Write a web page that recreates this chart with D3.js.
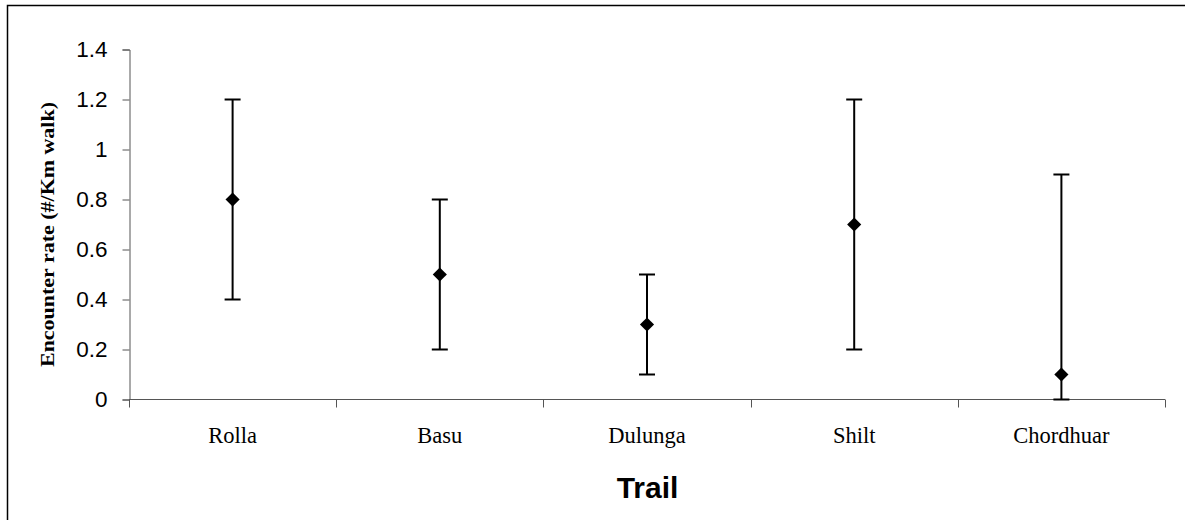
<!DOCTYPE html>
<html>
<head>
<meta charset="utf-8">
<script src="https://cdn.jsdelivr.net/npm/d3@7"></script>
<style>
  html, body { margin: 0; padding: 0; background: #fff; }
  svg { display: block; }
</style>
</head>
<body>
<svg id="chart" width="1185" height="520"></svg>
<script>
// Encounter rate per trail: mean with lower/upper range
const trails = ["Rolla", "Basu", "Dulunga", "Shilt", "Chordhuar"];
const meanRate = [0.8, 0.5, 0.3, 0.7, 0.1];
const lowRate  = [0.4, 0.2, 0.1, 0.2, 0.0];
const highRate = [1.2, 0.8, 0.5, 1.2, 0.9];
const yTicks = [0, 0.2, 0.4, 0.6, 0.8, 1, 1.2, 1.4];
const yTickLabels = ["0", "0.2", "0.4", "0.6", "0.8", "1", "1.2", "1.4"];

const rows = trails.map((t, i) => ({ trail: t, mean: meanRate[i], lo: lowRate[i], hi: highRate[i] }));

const svg = d3.select("#chart");

// outer chart-area frame (left and top edges inside the view)
svg.append("path")
  .attr("d", "M7.5,520 L7.5,5.5 L1185,5.5")
  .attr("fill", "none")
  .attr("stroke", "#000")
  .attr("stroke-width", 1.5);

const x = d3.scaleBand().domain(trails).range([129, 1165]).padding(0);
const y = d3.scaleLinear().domain([0, 1.4]).range([399.5, 49.5]);

// y axis
const yAxis = d3.axisLeft(y)
  .tickValues(yTicks)
  .tickSize(7)
  .tickPadding(15)
  .tickFormat((d, i) => yTickLabels[i]);

const gy = svg.append("g").attr("transform", "translate(129.5,0)").call(yAxis);
gy.select(".domain").attr("stroke", "#555").attr("stroke-width", 1);
gy.selectAll(".tick line").attr("stroke", "#555");
gy.selectAll(".tick text")
  .attr("font-family", "Arial, 'Liberation Sans', sans-serif")
  .attr("font-size", 22.5)
  .attr("fill", "#000");

// x axis line with ticks on category boundaries
const gx = svg.append("g");
gx.append("line")
  .attr("x1", x.range()[0]).attr("x2", x.range()[1])
  .attr("y1", y(0)).attr("y2", y(0))
  .attr("stroke", "#555").attr("stroke-width", 1);
const edges = trails.map(t => x(t)).concat([x.range()[1]]);
gx.selectAll("line.edge").data(edges).join("line")
  .attr("class", "edge")
  .attr("x1", d => Math.round(d) + 0.5).attr("x2", d => Math.round(d) + 0.5)
  .attr("y1", y(0)).attr("y2", y(0) + 8)
  .attr("stroke", "#555").attr("stroke-width", 1);
gx.selectAll("text.cat").data(trails).join("text")
  .attr("class", "cat")
  .attr("x", d => x(d) + x.bandwidth() / 2)
  .attr("y", 443)
  .attr("text-anchor", "middle")
  .attr("font-family", "'Times New Roman', 'Liberation Serif', serif")
  .attr("font-size", 22.5)
  .attr("fill", "#000")
  .text(d => d);

// error bars
const cx = d => x(d.trail) + x.bandwidth() / 2;
const bars = svg.append("g").attr("stroke", "#000").attr("stroke-width", 2).attr("fill", "none");
bars.selectAll("line.v").data(rows).join("line")
  .attr("class", "v")
  .attr("x1", cx).attr("x2", cx)
  .attr("y1", d => y(d.lo)).attr("y2", d => y(d.hi));
bars.selectAll("line.top").data(rows).join("line")
  .attr("class", "top")
  .attr("x1", d => cx(d) - 8).attr("x2", d => cx(d) + 8)
  .attr("y1", d => y(d.hi)).attr("y2", d => y(d.hi));
bars.selectAll("line.bot").data(rows).join("line")
  .attr("class", "bot")
  .attr("x1", d => cx(d) - 8).attr("x2", d => cx(d) + 8)
  .attr("y1", d => y(d.lo)).attr("y2", d => y(d.lo));

// mean markers (diamonds)
const diamond = d3.symbol().type(d3.symbolSquare).size(100);
svg.append("g").selectAll("path").data(rows).join("path")
  .attr("d", diamond)
  .attr("transform", d => `translate(${cx(d)},${y(d.mean)}) rotate(45)`)
  .attr("fill", "#000");

// axis titles
svg.append("text")
  .attr("transform", "translate(54,234.5) rotate(-90)")
  .attr("text-anchor", "middle")
  .attr("font-family", "'Times New Roman', 'Liberation Serif', serif")
  .attr("font-weight", "bold")
  .attr("font-size", 18)
  .attr("textLength", 265)
  .attr("lengthAdjust", "spacingAndGlyphs")
  .attr("fill", "#000")
  .text("Encounter rate (#/Km walk)");

svg.append("text")
  .attr("x", 647.5)
  .attr("y", 498)
  .attr("text-anchor", "middle")
  .attr("font-family", "Arial, 'Liberation Sans', sans-serif")
  .attr("font-weight", "bold")
  .attr("font-size", 30)
  .attr("fill", "#000")
  .text("Trail");
</script>
</body>
</html>
